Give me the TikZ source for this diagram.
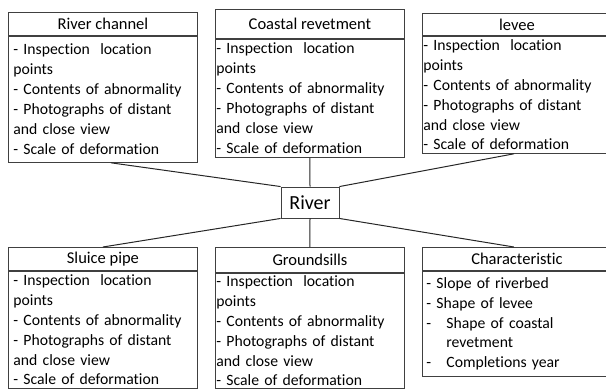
\documentclass[tikz,border=0pt]{standalone}
\usepackage{fontspec}
\setmainfont{Carlito}[Ligatures=NoCommon]
\usetikzlibrary{positioning}
\tikzstyle{boxhead}=[draw=black!75, line width=0.9pt, minimum width=189pt, inner sep=0pt,
    anchor=north west, font=\fontsize{16.5}{19}\selectfont]
\tikzstyle{boxbody}=[draw=black!75, line width=0.9pt, minimum width=189pt, text width=183pt,
    inner xsep=3pt, inner ysep=2pt, align=left, font=\fontsize{15.7}{19.9}\selectfont]
\tikzstyle{link}=[draw=black!85, line width=1pt]
\newcommand{\checkitems}{- Inspection\ \ location\\points\\- Contents of abnormality\\
  - Photographs of distant\\and close view\\- Scale of deformation}

\begin{document}
\begin{tikzpicture}[x=1pt, y=-1pt]
\useasboundingbox (0,0) rectangle (606,389);
\clip (0,0) rectangle (606,389);
% top row
\node[boxhead, minimum height=23pt] (chanhead) at (8,12) {River channel};
\node[boxbody, minimum height=126pt, text width=179pt, inner xsep=5pt, below=0pt of chanhead]
    (chanbody) {\checkitems};
\node[boxhead, minimum height=29pt] (coasthead) at (215,9) {Coastal revetment};
\node[boxbody, minimum height=118pt, inner xsep=1pt, text width=187pt, below=0pt of coasthead]
    (coastbody) {\checkitems};
\node[boxhead, minimum height=22pt] (leveehead) at (422,13) {levee};
\node[boxbody, minimum height=117pt, inner xsep=1pt, text width=187pt, below=0pt of leveehead]
    (leveebody) {\checkitems};
% centre
\node[draw=black!75, line width=0.9pt, minimum width=58pt, minimum height=31pt, inner sep=0pt,
    font=\fontsize{20}{22}\selectfont] (river) at (310,202.5) {River};
% bottom row
\node[boxhead, minimum height=23pt] (sluicehead) at (8,247) {Sluice pipe};
\node[boxbody, minimum height=117pt, text width=179pt, inner xsep=5pt, below=0pt of sluicehead]
    (sluicebody) {\checkitems};
\node[boxhead, minimum height=25pt] (sillhead) at (215,247) {Groundsills};
\node[boxbody, minimum height=115pt, inner xsep=1pt, text width=187pt, below=0pt of sillhead]
    (sillbody) {\checkitems};
\node[boxhead, minimum height=23pt] (charhead) at (422,247) {Characteristic};
\node[boxbody, minimum height=105pt, text width=181pt, inner xsep=4pt, below=0pt of charhead]
    (charbody)
    {- Slope of riverbed\\- Shape of levee\\
     \makebox[20pt][l]{-}Shape of coastal\\\hspace*{20pt}revetment\\
     \makebox[20pt][l]{-}Completions year};
% connectors
\draw[link] ([xshift=8pt]chanbody.south) -- (river.north west);
\draw[link] (coastbody.south) -- (river.north);
\draw[link] ([xshift=-3pt]leveebody.south) -- (river.north east);
\draw[link] (river.south west) -- (sluicehead.north);
\draw[link] (river.south) -- (sillhead.north);
\draw[link] (river.south east) -- ([xshift=-3pt]charhead.north);
\end{tikzpicture}
\end{document}
